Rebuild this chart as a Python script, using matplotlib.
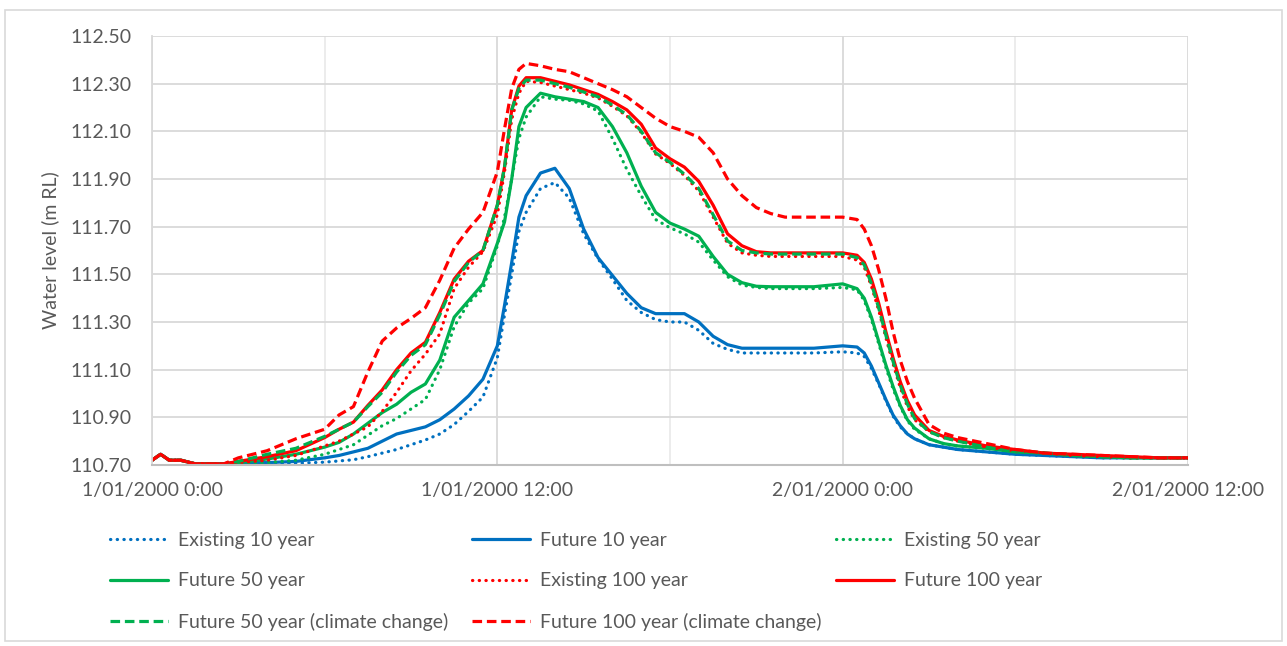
import matplotlib
matplotlib.use("Agg")
import matplotlib.pyplot as plt
from matplotlib.patches import Rectangle

plt.rcParams['font.family'] = ['Lato', 'DejaVu Sans']

# hours after 1/01/2000 0:00
hours = [0, 0.3, 0.6, 1, 1.5, 2, 2.5, 3, 4, 5, 6, 6.5, 7, 7.5, 8, 8.5, 9, 9.5, 10, 10.5,
         11, 11.5, 12, 12.25, 12.5, 12.75, 13, 13.5, 14, 14.5, 15, 15.5, 16, 16.5, 17, 17.5,
         18, 18.5, 19, 19.5, 20, 20.5, 21, 21.5, 22, 23, 24, 24.5, 24.75, 25, 25.25, 25.5,
         25.75, 26, 26.25, 26.5, 27, 27.5, 28, 29, 30, 31, 32, 33, 34, 35, 36]

# water levels (m RL)
existing_10 = [110.72, 110.745, 110.72, 110.72, 110.705, 110.705, 110.705, 110.705, 110.705, 110.707,
               110.712, 110.717, 110.722, 110.735, 110.75, 110.765, 110.785, 110.805, 110.83, 110.87,
               110.925, 110.985, 111.15, 111.33, 111.50, 111.68, 111.76, 111.86, 111.885, 111.82,
               111.67, 111.565, 111.48, 111.39, 111.34, 111.31, 111.30, 111.30, 111.265, 111.21,
               111.185, 111.17, 111.17, 111.17, 111.17, 111.17, 111.175, 111.17, 111.155, 111.105,
               111.04, 110.97, 110.905, 110.86, 110.83, 110.81, 110.785, 110.775, 110.765, 110.755,
               110.745, 110.74, 110.735, 110.73, 110.73, 110.73, 110.73]
future_10 = [110.72, 110.745, 110.72, 110.72, 110.705, 110.705, 110.705, 110.71, 110.71, 110.715,
             110.73, 110.74, 110.755, 110.77, 110.80, 110.83, 110.845, 110.86, 110.89, 110.935,
             110.99, 111.06, 111.20, 111.37, 111.55, 111.74, 111.83, 111.925, 111.945, 111.86,
             111.69, 111.57, 111.495, 111.42, 111.36, 111.335, 111.335, 111.335, 111.30, 111.24,
             111.205, 111.19, 111.19, 111.19, 111.19, 111.19, 111.20, 111.195, 111.17, 111.115,
             111.045, 110.975, 110.91, 110.865, 110.83, 110.81, 110.785, 110.775, 110.765, 110.755,
             110.745, 110.74, 110.735, 110.73, 110.73, 110.73, 110.73]
existing_50 = [110.72, 110.745, 110.72, 110.72, 110.705, 110.705, 110.705, 110.705, 110.71, 110.72,
               110.745, 110.765, 110.785, 110.825, 110.865, 110.895, 110.935, 110.975, 111.10, 111.28,
               111.38, 111.44, 111.62, 111.74, 111.90, 112.07, 112.16, 112.245, 112.235, 112.23,
               112.215, 112.185, 112.07, 111.94, 111.83, 111.73, 111.695, 111.67, 111.635, 111.56,
               111.49, 111.455, 111.445, 111.44, 111.44, 111.44, 111.445, 111.435, 111.39, 111.31,
               111.21, 111.11, 111.02, 110.945, 110.885, 110.85, 110.81, 110.79, 110.78, 110.77,
               110.755, 110.75, 110.74, 110.735, 110.73, 110.73, 110.73]
future_50 = [110.72, 110.745, 110.72, 110.72, 110.705, 110.705, 110.705, 110.71, 110.725, 110.745,
             110.775, 110.795, 110.83, 110.875, 110.92, 110.955, 111.005, 111.04, 111.14, 111.32,
             111.39, 111.46, 111.63, 111.72, 111.90, 112.12, 112.20, 112.26, 112.245, 112.235,
             112.225, 112.20, 112.12, 112.01, 111.87, 111.76, 111.715, 111.69, 111.66, 111.575,
             111.50, 111.465, 111.45, 111.448, 111.448, 111.448, 111.46, 111.44, 111.40, 111.32,
             111.22, 111.12, 111.03, 110.95, 110.89, 110.855, 110.81, 110.79, 110.78, 110.77,
             110.755, 110.75, 110.74, 110.735, 110.73, 110.73, 110.73]
existing_100 = [110.72, 110.745, 110.72, 110.72, 110.705, 110.705, 110.705, 110.71, 110.72, 110.74,
                110.78, 110.80, 110.83, 110.86, 110.925, 111.005, 111.095, 111.165, 111.25, 111.44,
                111.53, 111.595, 111.75, 111.93, 112.15, 112.26, 112.31, 112.305, 112.29, 112.275,
                112.26, 112.24, 112.205, 112.165, 112.095, 112.005, 111.965, 111.915, 111.85, 111.74,
                111.63, 111.59, 111.58, 111.575, 111.575, 111.575, 111.575, 111.56, 111.53, 111.45,
                111.35, 111.235, 111.125, 111.025, 110.945, 110.89, 110.84, 110.815, 110.80, 110.775,
                110.76, 110.75, 110.74, 110.735, 110.73, 110.73, 110.73]
future_100 = [110.72, 110.745, 110.72, 110.72, 110.705, 110.705, 110.705, 110.715, 110.735, 110.76,
              110.815, 110.85, 110.88, 110.95, 111.015, 111.10, 111.17, 111.215, 111.34, 111.48,
              111.555, 111.60, 111.79, 111.95, 112.19, 112.29, 112.325, 112.325, 112.31, 112.295,
              112.275, 112.255, 112.225, 112.19, 112.13, 112.03, 111.985, 111.95, 111.89, 111.79,
              111.67, 111.62, 111.595, 111.59, 111.59, 111.59, 111.59, 111.58, 111.55, 111.48,
              111.38, 111.26, 111.15, 111.05, 110.97, 110.91, 110.845, 110.82, 110.805, 110.78,
              110.765, 110.75, 110.745, 110.74, 110.735, 110.73, 110.73]
future_50_cc = [110.72, 110.745, 110.72, 110.72, 110.705, 110.705, 110.705, 110.715, 110.745, 110.77,
                110.82, 110.85, 110.88, 110.945, 111.005, 111.09, 111.16, 111.205, 111.33, 111.47,
                111.55, 111.60, 111.79, 111.95, 112.19, 112.28, 112.315, 112.315, 112.30, 112.285,
                112.265, 112.245, 112.21, 112.17, 112.10, 112.01, 111.97, 111.92, 111.86, 111.75,
                111.64, 111.60, 111.59, 111.585, 111.585, 111.585, 111.585, 111.57, 111.54, 111.46,
                111.36, 111.245, 111.135, 111.035, 110.955, 110.895, 110.84, 110.815, 110.80, 110.775,
                110.76, 110.75, 110.74, 110.735, 110.73, 110.73, 110.73]
future_100_cc = [110.72, 110.745, 110.72, 110.72, 110.705, 110.705, 110.705, 110.73, 110.76, 110.81,
                 110.85, 110.91, 110.945, 111.09, 111.22, 111.275, 111.315, 111.36, 111.475, 111.61,
                 111.69, 111.76, 111.93, 112.11, 112.28, 112.36, 112.385, 112.375, 112.36, 112.35,
                 112.325, 112.30, 112.275, 112.245, 112.20, 112.155, 112.12, 112.10, 112.075, 112.01,
                 111.90, 111.83, 111.78, 111.755, 111.74, 111.74, 111.74, 111.73, 111.69, 111.62,
                 111.52, 111.40, 111.26, 111.14, 111.05, 110.98, 110.87, 110.834, 110.815, 110.79,
                 110.765, 110.75, 110.745, 110.74, 110.735, 110.73, 110.73]

x_ticks = [0, 12, 24, 36]
x_labels = ["1/01/2000 0:00", "1/01/2000 12:00", "2/01/2000 0:00", "2/01/2000 12:00"]
y_ticks = [110.70, 110.90, 111.10, 111.30, 111.50, 111.70, 111.90, 112.10, 112.30, 112.50]

BLUE, GREEN, RED = "#0070C0", "#00B050", "#FF0000"
TXT = "#595959"
DOT = (0, (0.1, 2.0))
DASH = (0, (3.0, 1.5))

series = [
    ("Existing 10 year", existing_10, BLUE, DOT),
    ("Future 10 year", future_10, BLUE, "-"),
    ("Existing 50 year", existing_50, GREEN, DOT),
    ("Future 50 year", future_50, GREEN, "-"),
    ("Existing 100 year", existing_100, RED, DOT),
    ("Future 100 year", future_100, RED, "-"),
    ("Future 50 year (climate change)", future_50_cc, GREEN, DASH),
    ("Future 100 year (climate change)", future_100_cc, RED, DASH),
]

fig = plt.figure(figsize=(12.87, 6.46), dpi=100)
ax = fig.add_axes([152 / 1287, 1 - 465 / 646, (1188 - 152) / 1287, (465 - 36) / 646])

handles = {}
for name, vals, col, ls in series:
    ln, = ax.plot(hours, vals, color=col, linestyle=ls, lw=2.3,
                  dash_capstyle="round" if ls == DOT else "butt",
                  solid_capstyle="round", solid_joinstyle="round")
    handles[name] = ln

ax.set_xlim(0, 36)
ax.set_ylim(110.70, 112.50)
ax.set_xticks(x_ticks)
ax.set_xticklabels(x_labels)
ax.set_xticks([6, 18, 30], minor=True)
ax.set_yticks(y_ticks)
ax.set_yticklabels(["%.2f" % v for v in y_ticks])
ax.tick_params(axis="both", which="both", length=0, colors=TXT, labelsize=14)
ax.tick_params(axis="x", pad=12)
ax.tick_params(axis="y", pad=15)
ax.grid(True, which="major", color="#D9D9D9", lw=1.3)
ax.grid(True, which="minor", axis="x", color="#EBEBEB", lw=1.3)
ax.set_axisbelow(True)
for s in ["top", "right"]:
    ax.spines[s].set_visible(False)
ax.spines["left"].set_color("#D9D9D9")
ax.spines["bottom"].set_color("#BFBFBF")
ax.spines["left"].set_linewidth(1.3)
ax.spines["bottom"].set_linewidth(1.5)
ax.set_ylabel("Water level (m RL)", color=TXT, fontsize=14, labelpad=8)

# legend laid out in three fixed columns
columns = [
    (110, ["Existing 10 year", "Future 50 year", "Future 50 year (climate change)"]),
    (472, ["Future 10 year", "Existing 100 year", "Future 100 year (climate change)"]),
    (836, ["Existing 50 year", "Future 100 year"]),
]
for x0, names in columns:
    leg = fig.legend([handles[n] for n in names], names, loc="upper left",
                     bbox_to_anchor=(x0 / 1287, 1 - 532 / 646), frameon=False,
                     fontsize=14, handlelength=3.0, handletextpad=0.5,
                     labelspacing=1.2, borderpad=0, borderaxespad=0)
    for t in leg.get_texts():
        t.set_color(TXT)

fig.patches.append(Rectangle((5 / 1287, 1 - 641 / 646), 1277 / 1287, 631 / 646,
                             transform=fig.transFigure, fill=False,
                             edgecolor="#D9D9D9", lw=1.2))

fig.savefig("out.png", dpi=100)
